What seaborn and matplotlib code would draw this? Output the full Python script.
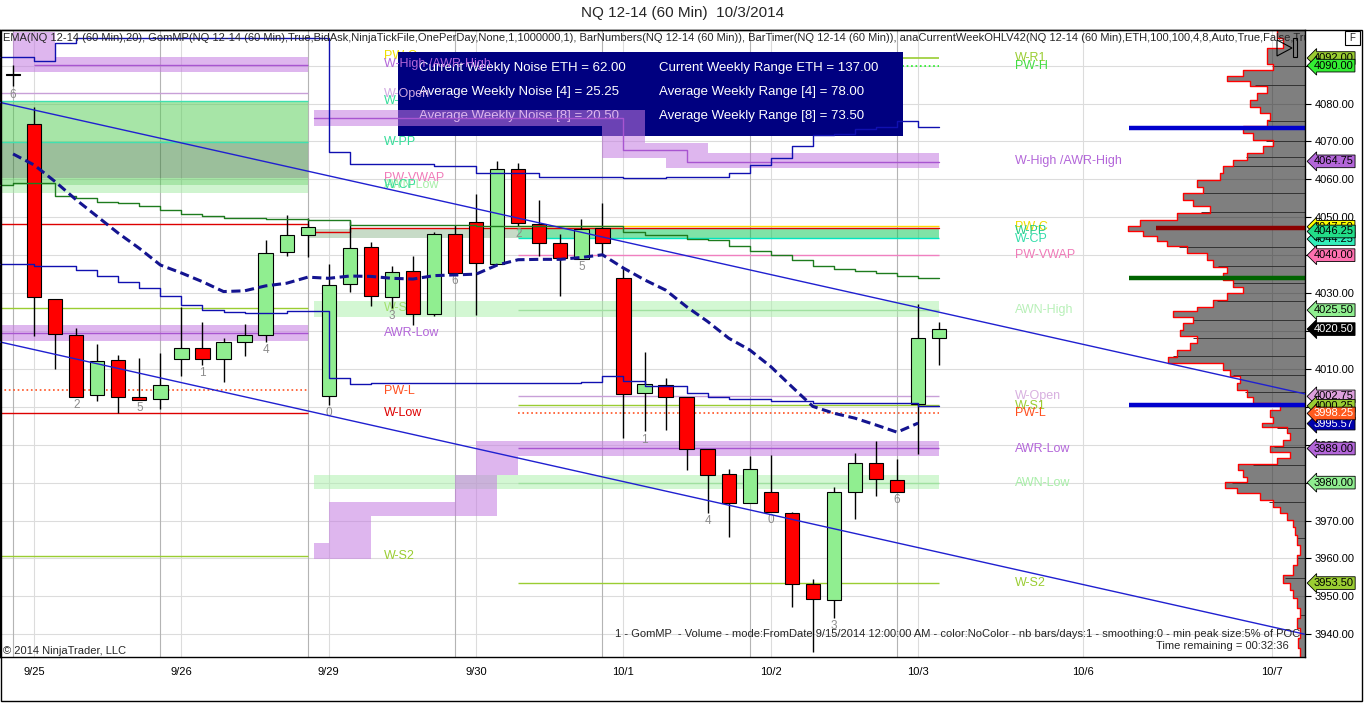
import numpy as np
import matplotlib
matplotlib.use("Agg")
import matplotlib.pyplot as plt
from matplotlib.patches import Rectangle, Polygon
import seaborn as sns

sns.set_style("white")
plt.rcParams['font.family'] = ['Liberation Sans', 'DejaVu Sans']

# ---------------- data ----------------
opens = [4087.4, 4074.6, 4028.4, 4018.9, 4003.1, 4012.3, 4002.7, 4002.0, 4012.6, 4015.5,
         4012.6, 4017.1, 4018.9, 4040.8, 4045.3, 4002.9, 4032.3, 4042.1, 4028.9, 4035.8,
         4024.4, 4045.6, 4048.8, 4037.6, 4062.7, 4048.3, 4043.2, 4039.0, 4047.3, 4033.9,
         4003.6, 4005.8, 4002.6, 3988.8, 3982.2, 3974.6, 3977.5, 3971.9, 3953.2, 3949.1,
         3977.5, 3985.1, 3980.7, 4000.7, 4018.1]
highs = [4090.2, 4079.0, 4028.5, 4020.9, 4016.6, 4013.7, 4012.8, 4014.3, 4026.3, 4022.3,
         4018.2, 4021.9, 4044.0, 4050.6, 4049.8, 4037.6, 4048.9, 4043.5, 4037.2, 4039.8,
         4046.0, 4048.0, 4056.1, 4064.9, 4064.3, 4054.6, 4045.6, 4049.6, 4053.7, 4036.6,
         4014.4, 4007.7, 4002.6, 3988.8, 3983.6, 3987.0, 3987.3, 3972.2, 3954.6, 3978.8,
         3987.9, 3991.0, 3986.2, 4027.1, 4022.5]
lows = [4084.5, 4018.8, 4010.0, 4002.7, 4001.6, 3998.3, 4001.8, 3999.4, 4008.0, 4011.0,
        4006.5, 4013.3, 4017.2, 4039.9, 4039.6, 4000.5, 4030.2, 4026.5, 4026.0, 4021.6,
        4024.0, 4035.3, 4024.2, 4037.6, 4047.6, 4039.9, 4029.3, 4039.0, 4040.1, 3991.9,
        3993.5, 3993.9, 3983.3, 3971.9, 3965.6, 3974.6, 3972.2, 3947.3, 3935.4, 3944.2,
        3970.3, 3976.6, 3977.5, 3987.5, 4010.9]
closes = [4087.4, 4028.9, 4019.2, 4002.7, 4012.0, 4002.7, 4001.8, 4005.7, 4015.5, 4012.6,
          4017.1, 4019.0, 4040.5, 4045.3, 4047.4, 4032.1, 4041.8, 4029.2, 4035.5, 4024.4,
          4045.6, 4035.3, 4037.9, 4062.7, 4048.4, 4043.2, 4039.2, 4046.9, 4043.2, 4003.3,
          4006.0, 4002.6, 3988.8, 3981.9, 3974.6, 3983.6, 3972.2, 3953.2, 3949.2, 3977.5,
          3985.1, 3980.9, 3977.5, 4018.1, 4020.5]
ema20 = [4066.7, 4063.8, 4059.4, 4054.6, 4050.2, 4045.8, 4041.8, 4037.4, 4035.3, 4033.0,
         4030.4, 4030.6, 4031.9, 4032.6, 4034.2, 4033.9, 4034.5, 4034.4, 4033.9, 4033.7,
         4034.6, 4034.8, 4035.0, 4037.4, 4038.8, 4038.9, 4038.9, 4039.4, 4040.1, 4036.6,
         4033.5, 4030.8, 4026.4, 4022.5, 4018.1, 4015.0, 4010.6, 4005.3, 4000.1, 3998.3,
         3997.0, 3995.2, 3993.3, 3995.7]
bar_number_bars = [0, 3, 6, 9, 12, 15, 18, 21, 24, 27, 30, 33, 36, 39, 42]
bar_number_text = ['6', '2', '5', '1', '4', '0', '3', '6', '2', '5', '1', '4', '0', '3', '6']

date_ticks = [1, 8, 15, 22, 29, 36, 43, 50.85, 59.8]
date_labels = ['9/25', '9/26', '9/29', '9/30', '10/1', '10/2', '10/3', '10/6', '10/7']
session_breaks = [0, 7, 14, 21, 28, 35, 42]
price_ticks = list(range(3940, 4091, 10))

# step lines: first value runs from the left edge to bar 0, then one value per bar
upper_blue = ([4092.2, 4092.2, 4091.2, 4096.0] + [4097.3] * 12 + [4067.3] + [4064.0] * 4
              + [4063.4] * 2 + [4061.6] * 3 + [4060.7] * 4 + [4060.3] * 2 + [4060.7] * 3
              + [4061.6, 4063.8, 4065.6, 4068.9, 4071.7, 4071.9, 4073.2, 4073.9, 4075.3, 4073.7])
lower_blue = ([4037.6, 4037.6, 4037.2, 4037.2, 4036.1, 4034.4, 4032.9, 4031.3, 4029.3, 4026.9,
               4025.5, 4025.0, 4024.7, 4024.7, 4025.3, 4025.3, 4007.5, 4006.0] + [4006.2] * 6
              + [4006.4] * 4 + [4006.6, 4008.0, 4006.8, 4005.5, 4005.5, 4003.7, 4002.7,
                                4002.0, 4002.0, 4001.4, 4001.4] + [4001.0] * 5 + [4000.3])
green_step = ([4058.6, 4059.0, 4059.0, 4055.7, 4055.0, 4054.1, 4053.7, 4053.1, 4052.0, 4050.8,
               4050.4, 4049.8, 4049.8, 4049.5, 4049.5, 4049.2, 4049.2] + [4048.0] * 6
              + [4047.6] * 7 + [4046.2, 4045.4, 4045.4, 4044.3, 4043.9, 4042.3, 4041.2,
                                4040.0, 4038.8, 4037.2, 4036.3, 4035.9, 4035.4, 4034.4, 4033.9])
red_step_x = [-0.62, 14, 16, 44]
red_step_y = [4048.2, 4046.2, 4047.1, 4047.1]

trend_upper_x = [-0.62, 61.38]
trend_upper_y = [4080.3, 4003.4]
trend_lower_x = [-0.62, 61.38]
trend_lower_y = [4017.1, 3940.0]

# AWR bands (pink)
awr_hi_w1_x = [0, 2, 14]
awr_hi_w1_top = [4098.9, 4092.2]
awr_hi_w1_bot = [4088.2, 4088.2]
awr_lo_w1_x = [-0.62, 14]
awr_lo_w1_top = [4021.6]
awr_lo_w1_bot = [4017.4]
awr_hi_w2_x = [14.3, 28, 30, 31, 33, 44]
awr_hi_w2_top = [4078.3, 4078.3, 4069.6, 4069.6, 4066.9]
awr_hi_w2_bot = [4074.0, 4065.6, 4065.6, 4062.9, 4062.9]
awr_hi_w2_line_x = [14.3, 29, 32, 44]
awr_hi_w2_line_y = [4076.2, 4067.8, 4064.7, 4064.7]
awr_lo_w2_x = [14.3, 15, 17, 21, 22, 23, 24, 44]
awr_lo_w2_top = [3964.0, 3975.0, 3975.0, 3982.1, 3991.1, 3991.1, 3991.1]
awr_lo_w2_bot = [3959.8, 3959.8, 3971.2, 3971.2, 3971.2, 3982.1, 3987.1]

# green zones: (x0, x1, bottom, top, colour)
green_zones = [(-0.62, 14, 4069.8, 4080.7, '#51cd51'),
               (-0.62, 14, 4060.3, 4069.8, '#398139'),
               (-0.62, 14, 4058.6, 4060.3, '#51cd51'),
               (-0.62, 14, 4056.4, 4058.6, '#a1eba1'),
               (14.3, 44, 4023.8, 4027.8, '#a9f1a9'),
               (14.3, 44, 3978.3, 3982.1, '#a9f1a9'),
               (14, 24, 4044.5, 4046.9, '#91b991'),
               (24, 44, 4044.5, 4046.9, '#00c850')]

# level lines: (price, x0, x1, colour, linestyle)
level_lines = [(4090.2, 1, 14, '#a855d0', '-'), (4082.7, -0.62, 14, '#c8a0d8', '-'),
               (4080.7, -0.62, 14, '#40e0b0', '-'), (4069.8, -0.62, 14, '#40e0b0', '-'),
               (4026.0, -0.62, 14, '#9acd32', '-'), (4019.6, -0.62, 14, '#a855d0', '-'),
               (4004.5, -0.62, 14, '#ff5020', ':'), (3998.3, -0.62, 14, '#dd0000', '-'),
               (3960.6, -0.62, 14, '#9acd32', '-'),
               (4047.7, 24, 44, '#ffd700', '-'), (4044.4, 24, 44, '#00e5c0', '-'),
               (4040.0, 24, 44, '#f080c0', '-'), (4025.5, 24, 44, '#a0e0a0', '-'),
               (4002.8, 24, 44, '#c8a0d8', '-'), (4000.4, 24, 44, '#9acd32', '-'),
               (3998.3, 24, 44, '#ff5020', ':'), (3989.1, 24, 44, '#a855d0', '-'),
               (3980.0, 24, 44, '#a0e0a0', '-'), (3953.6, 24, 44, '#9acd32', '-')]
hidden_lines = [(4092.0, 24, 44, '#9acd32', '-'), (4090.0, 24, 44, '#22ee22', ':')]

# level names: previous-week block and current-week block
labels_w1 = [(4092.5, 'PW-C', '#eedd00', 1.1), (4090.3, 'W-High /AWR-High', '#b366d9', 6),
             (4082.6, 'W-Open', '#d0a8e0', 6), (4080.7, 'W-R1', '#33dd99', 1.1),
             (4069.9, 'W-PP', '#33dd99', 3), (4060.4, 'PW-VWAP', '#f07ab8', 3),
             (4058.6, 'AWN-Low', '#a8eea8', 3), (4058.6, 'W-CP', '#33dd99', 3),
             (4026.0, 'W-S1', '#9acd32', 1.1), (4019.6, 'AWR-Low', '#b366d9', 3),
             (4004.2, 'PW-L', '#ff5020', 3), (3998.3, 'W-Low', '#dd0000', 3),
             (3960.6, 'W-S2', '#9acd32', 3)]
labels_w2 = [(4092.0, 'W-R1', '#9acd32'), (4090.0, 'PW-H', '#44dd44'),
             (4064.75, 'W-High /AWR-High', '#b366d9'), (4047.5, 'PW-C', '#eedd00'),
             (4046.25, 'W-PP', '#22cc88'), (4044.25, 'W-CP', '#33ddaa'),
             (4040.0, 'PW-VWAP', '#f07ab8'), (4025.5, 'AWN-High', '#b8f0b8'),
             (4002.75, 'W-Open', '#d8b0e0'), (4000.25, 'W-S1', '#9acd32'),
             (3998.25, 'PW-L', '#ff5020'), (3989.0, 'AWR-Low', '#b366d9'),
             (3980.0, 'AWN-Low', '#a8eea8'), (3953.5, 'W-S2', '#9acd32')]

# price flags on the right axis: (price, fill, text colour)
flags = [(4092.00, '#9acd32', 'black'), (4090.00, '#33ee33', 'black'),
         (4064.75, '#b366d9', 'black'), (4047.50, '#ffff00', 'black'),
         (4044.25, '#33eebb', 'black'), (4046.25, '#22dd88', 'black'),
         (4040.00, '#ff70b0', 'black'), (4025.50, '#90ee90', 'black'),
         (4020.50, 'black', 'white'), (4002.75, '#dda0dd', 'black'),
         (4000.25, '#9acd32', 'black'), (3995.57, '#0000aa', 'white'),
         (3998.25, '#ff5a1e', 'white'), (3989.00, '#b366d9', 'black'),
         (3980.00, '#90ee90', 'black'), (3953.50, '#9acd32', 'black')]

noise_left = ['Current Weekly Noise ETH = 62.00', 'Average Weekly Noise [4] = 25.25',
              'Average Weekly Noise [8] = 20.50']
noise_right = ['Current Weekly Range ETH = 137.00', 'Average Weekly Range [4] = 78.00',
               'Average Weekly Range [8] = 73.50']

# volume profile (price, width in px)
profile_price = [3935.0, 3937.6, 3940.3, 3942.9, 3945.5, 3948.2, 3950.8, 3952.6, 3954.3, 3956.9,
                 3959.6, 3962.2, 3964.8, 3967.5, 3969.2, 3971.0, 3972.8, 3974.5, 3976.3, 3978.0,
                 3979.4, 3980.7, 3982.5, 3984.2, 3985.5, 3987.3, 3989.1, 3990.4, 3992.1, 3993.9,
                 3995.2, 3996.5, 3998.3, 4000.1, 4001.8, 4003.6, 4005.3, 4007.1, 4008.9, 4010.6,
                 4012.4, 4014.1, 4015.9, 4017.7, 4019.4, 4021.2, 4022.9, 4024.7, 4025.6, 4027.3,
                 4029.1, 4030.8, 4032.6, 4034.4, 4036.1, 4037.9, 4039.6, 4041.4, 4043.2, 4044.5,
                 4045.8, 4047.1, 4048.4, 4050.2, 4052.0, 4053.7, 4055.5, 4057.2, 4059.0, 4060.7,
                 4062.5, 4064.3, 4066.0, 4067.8, 4069.6, 4071.3, 4073.1, 4074.8, 4076.6, 4078.3,
                 4080.1, 4081.8, 4083.6, 4085.4, 4086.3, 4088.0, 4089.8, 4091.1, 4093.3, 4095.9,
                 4098.6]
profile_vol = [5, 7, 5, 8, 5, 8, 12, 15, 22, 12,
               8, 5, 8, 10, 12, 18, 25, 32, 45, 68,
               80, 58, 62, 67, 28, 15, 35, 22, 15, 18,
               43, 32, 35, 25, 52, 58, 68, 65, 75, 82,
               137, 128, 115, 108, 125, 122, 112, 132, 108, 92,
               78, 62, 72, 82, 78, 92, 98, 118, 138, 148,
               162, 177, 165, 128, 95, 112, 122, 102, 108, 85,
               82, 72, 58, 42, 32, 52, 62, 38, 35, 45,
               55, 48, 38, 55, 78, 62, 32, 38, 38, 22,
               28]
profile_marks = [4090.0, 4084.9, 4075.3, 4070.2, 4065.9, 4063.6, 4056.4, 4051.5, 4042.1,
                 4037.2, 4032.6, 4027.8, 4022.9, 4018.1, 4013.3, 4008.4, 4004.0, 3994.4,
                 3989.5, 3984.7, 3979.8, 3975.0, 3965.3, 3960.0, 3954.8, 3945.1]
# thick profile levels: (price, start bar, colour)
profile_levels = [(4073.5, 53.0, '#0000cd'), (4047.3, 54.3, '#8b0000'),
                  (4033.9, 53.0, '#006400'), (4000.4, 53.0, '#0000cd')]

# ---------------- layout ----------------
XMIN, XMAX = -0.62, 61.38
YMIN, YMAX = 3934.0, 4099.4
PX_PER_BAR = 21.05
W, H = 1366, 703

fig = plt.figure(figsize=(W / 100, H / 100), dpi=100)
fig.patch.set_facecolor('white')
ax = fig.add_axes([0, 46 / H, 1305 / W, 627 / H])
ax.set_xlim(XMIN, XMAX)
ax.set_ylim(YMIN, YMAX)
ax.set_facecolor('white')


def px2ax(px, py):
    return px / 1305, (657 - py) / 627


# grid
for p in price_ticks:
    ax.axhline(p, color='#dcdcdc', lw=0.8, zorder=1.0)
for d in date_ticks:
    ax.axvline(d, color='#dcdcdc', lw=0.8, zorder=1.0)
for s in session_breaks:
    ax.axvline(s, color='#b4b4b4', lw=0.8, zorder=1.0)

# lines hidden behind the noise box
for p, x0, x1, c, ls in hidden_lines:
    ax.hlines(p, x0, x1, colors=c, linestyles=ls, lw=1.2, zorder=1.1)

# noise box
bx, by = px2ax(398, 136)
ax.add_patch(Rectangle((bx, by), 505 / 1305, 84 / 627, transform=ax.transAxes,
                       facecolor='#000080', edgecolor='none', zorder=1.15))
for k, (tl, tr) in enumerate(zip(noise_left, noise_right)):
    yy = px2ax(0, 68 + 24 * k)[1]
    ax.text(419 / 1305, yy, tl, transform=ax.transAxes, color='white', fontsize=9.5,
            va='center', ha='left', zorder=1.16)
    ax.text(659 / 1305, yy, tr, transform=ax.transAxes, color='white', fontsize=9.5,
            va='center', ha='left', zorder=1.16)

# green zones
for x0, x1, b, t, c in green_zones:
    ax.fill_between([x0, x1], [b, b], [t, t], color=c, alpha=0.5, lw=0, zorder=1.2)


def pink_band(xs, tops, bots):
    ax.fill_between(xs, bots + [bots[-1]], tops + [tops[-1]], step='post',
                    color='#c47ae0', alpha=0.55, lw=0, zorder=1.2)


pink_band(awr_hi_w1_x, awr_hi_w1_top, awr_hi_w1_bot)
pink_band(awr_lo_w1_x, awr_lo_w1_top, awr_lo_w1_bot)
pink_band(awr_hi_w2_x, awr_hi_w2_top, awr_hi_w2_bot)
pink_band(awr_lo_w2_x, awr_lo_w2_top, awr_lo_w2_bot)
ax.plot(awr_hi_w2_line_x, awr_hi_w2_line_y, drawstyle='steps-post', color='#a855d0',
        lw=1, zorder=1.25)

# volume profile
pp = np.array(profile_price)
pv = np.array(profile_vol, dtype=float)
edges = np.concatenate([[YMIN], (pp[1:] + pp[:-1]) / 2, [YMAX]])
xl = XMAX - pv / PX_PER_BAR
prof_x = np.repeat(xl, 2)
prof_y = np.column_stack([edges[:-1], edges[1:]]).ravel()
ax.fill_betweenx(prof_y, prof_x, XMAX, color='black', alpha=0.5, lw=0, zorder=1.3)
for m in profile_marks:
    ax.hlines(m, np.interp(m, pp, xl), XMAX, colors='#333333', lw=0.7, zorder=1.35)
ax.plot(prof_x, prof_y, color='red', lw=1, zorder=1.4)
for p, x0, c in profile_levels:
    ax.hlines(p, x0, XMAX, colors=c, lw=3.2, zorder=1.45)

# level lines
for p, x0, x1, c, ls in level_lines:
    ax.hlines(p, x0, x1, colors=c, linestyles=ls, lw=1.2 if ls == ':' else 1, zorder=2)
ax.plot(red_step_x, red_step_y, drawstyle='steps-post', color='#dd0000', lw=1, zorder=2)

# level names
for p, t, c, z in labels_w1:
    ax.text(17.6, p, t, color=c, fontsize=9, va='center', ha='left', zorder=z)
for p, t, c in labels_w2:
    ax.text(47.6, p, t, color=c, fontsize=9, va='center', ha='left', zorder=3)

# candles
idx = np.arange(len(opens))
o, h, l, c = map(np.array, (opens, highs, lows, closes))
ax.vlines(idx, l, h, colors='black', lw=1, zorder=3)
body_lo = np.minimum(o, c)
body_h = np.maximum(np.abs(c - o), 0.3)
cols = np.where(c > o, '#90ee90', np.where(c < o, '#ff0000', 'black'))
ax.bar(idx, body_h, bottom=body_lo, width=0.68, color=cols, edgecolor='black',
       linewidth=0.8, zorder=3.5)
for b, t in zip(bar_number_bars, bar_number_text):
    ax.annotate(t, (b, lows[b]), xytext=(0, -1.5), textcoords='offset points',
                ha='center', va='top', fontsize=8.5, color='#8c8c8c', zorder=3.6)

# step lines, trend lines, EMA
sx = [XMIN] + list(range(45))
ax.plot(sx, upper_blue + [upper_blue[-1]], drawstyle='steps-post', color='#1010b0', lw=1,
        zorder=4.2)
ax.plot(sx, lower_blue + [lower_blue[-1]], drawstyle='steps-post', color='#1010b0', lw=1,
        zorder=4.2)
ax.plot(sx, green_step + [green_step[-1]], drawstyle='steps-post', color='#1e7b1e', lw=1,
        zorder=4.2)
ax.plot(trend_upper_x, trend_upper_y, color='#2020d0', lw=1, zorder=4.2)
ax.plot(trend_lower_x, trend_lower_y, color='#2020d0', lw=1, zorder=4.2)
sns.lineplot(x=np.arange(len(ema20)), y=ema20, ax=ax, color='#141490', lw=2.2,
             linestyle=(0, (3, 1.5)), zorder=4.5)

# axes, ticks
for sp in ax.spines.values():
    sp.set_color('black')
    sp.set_linewidth(1)
ax.yaxis.tick_right()
ax.set_yticks(price_ticks)
ax.set_yticklabels([f'{v:.2f}' for v in price_ticks])
ax.set_xticks(date_ticks)
ax.set_xticklabels(date_labels)
ax.tick_params(axis='y', which='both', left=False, right=True, labelleft=False,
               labelright=True, labelsize=8, length=4, pad=3, colors='black')
ax.tick_params(axis='x', labelsize=8, length=4, pad=3, colors='black')
ax.set_xlabel('')
ax.set_ylabel('')

# price flags
for p, fc, tc in flags:
    ax.text(XMAX + 0.42, p, f'{p:.2f}', color=tc, fontsize=8, va='center', ha='left',
            clip_on=False, zorder=5,
            bbox=dict(boxstyle='larrow,pad=0.12', fc=fc, ec='black', lw=0.6))

# texts inside the plot
ax.text(3 / 1305, px2ax(0, 38)[1],
        'EMA(NQ 12-14 (60 Min),20), GomMP(NQ 12-14 (60 Min),True,BidAsk,NinjaTickFile,'
        'OnePerDay,None,1,1000000,1), BarNumbers(NQ 12-14 (60 Min)), BarTimer(NQ 12-14 '
        '(60 Min)), anaCurrentWeekOHLV42(NQ 12-14 (60 Min),ETH,100,100,4,8,Auto,True,False,'
        'True)', transform=ax.transAxes, fontsize=8, va='center', ha='left', clip_on=True,
        zorder=6)
ax.text(1300 / 1305, px2ax(0, 634)[1],
        '1 - GomMP  - Volume - mode:FromDate 9/15/2014 12:00:00 AM - color:NoColor - nb '
        'bars/days:1 - smoothing:0 - min peak size:5% of POC', transform=ax.transAxes,
        fontsize=8, va='center', ha='right', zorder=6)
ax.text(1289 / 1305, px2ax(0, 646)[1], 'Time remaining = 00:32:36', transform=ax.transAxes,
        fontsize=8, va='center', ha='right', zorder=6)
ax.text(3 / 1305, px2ax(0, 651)[1], '\u00a9 2014 NinjaTrader, LLC', transform=ax.transAxes,
        fontsize=8, va='center', ha='left', zorder=6)

# bar timer icon
tri = [px2ax(1277, 40), px2ax(1292, 48), px2ax(1277, 56)]
ax.add_patch(Polygon(tri, closed=True, fill=False, ec='black', lw=0.8,
                     transform=ax.transAxes, zorder=6))
rx, ry = px2ax(1293, 57)
ax.add_patch(Rectangle((rx, ry), 4 / 1305, 19 / 627, fill=False, ec='black', lw=0.8,
                       transform=ax.transAxes, zorder=6))

# title, frame, F box
fig.text(683 / W, 1 - 13 / H, 'NQ 12-14 (60 Min)  10/3/2014', ha='center', va='center',
         fontsize=11)
fig.add_artist(Rectangle((0.5 / W, 2 / H), 1361.5 / W, 671 / H, transform=fig.transFigure,
                         fill=False, ec='black', lw=1))
fig.add_artist(Rectangle((1345 / W, (H - 45) / H), 15 / W, 14 / H, transform=fig.transFigure,
                         fill=False, ec='black', lw=0.8))
fig.text(1352.5 / W, (H - 38) / H, 'F', fontsize=7, ha='center', va='center')

fig.savefig('out.png', dpi=100)
